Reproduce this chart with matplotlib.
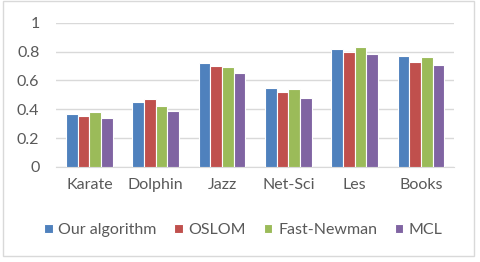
import matplotlib
matplotlib.use("Agg")
import matplotlib.pyplot as plt
import numpy as np
from matplotlib.patches import Rectangle

plt.rcParams['font.family'] = ['Lato', 'DejaVu Sans']

datasets = ['Karate', 'Dolphin', 'Jazz', 'Net-Sci', 'Les', 'Books']
our_algorithm = [0.37, 0.45, 0.72, 0.55, 0.82, 0.77]
oslom = [0.35, 0.47, 0.70, 0.52, 0.80, 0.73]
fast_newman = [0.38, 0.42, 0.69, 0.54, 0.83, 0.76]
mcl = [0.34, 0.39, 0.65, 0.48, 0.78, 0.71]

series = [('Our algorithm', our_algorithm, '#4F81BD'),
          ('OSLOM', oslom, '#C0504D'),
          ('Fast-Newman', fast_newman, '#9BBB59'),
          ('MCL', mcl, '#8064A2')]

text_color = '#595959'
fs = 11.5

fig = plt.figure(figsize=(4.8, 2.62), dpi=100)
ax = fig.add_axes([0.117, 0.363, 0.829, 0.550])

x = np.arange(len(datasets))
w = 0.176
for i, (name, vals, col) in enumerate(series):
    ax.bar(x + (i - 1.5) * w, vals, width=w, color=col, edgecolor='white',
           linewidth=0.8, label=name, zorder=3)

ax.set_xlim(-0.5, len(datasets) - 0.5)
ax.set_ylim(0, 1)
ax.set_yticks([0, 0.2, 0.4, 0.6, 0.8, 1])
ax.set_yticklabels(['0', '0.2', '0.4', '0.6', '0.8', '1'])
ax.set_xticks(x)
ax.set_xticklabels(datasets)
ax.yaxis.grid(True, color='#D9D9D9', linewidth=1, zorder=0)
ax.set_axisbelow(True)
for s in ['top', 'right', 'left']:
    ax.spines[s].set_visible(False)
ax.spines['bottom'].set_color('#D9D9D9')
ax.tick_params(axis='both', length=0, labelsize=fs, colors=text_color)
ax.tick_params(axis='x', pad=8)
ax.tick_params(axis='y', pad=12)

leg = fig.legend(loc='center', bbox_to_anchor=(0.507, 0.122), ncol=4, frameon=False,
                 fontsize=fs, handlelength=0.55, handleheight=0.55,
                 handletextpad=0.35, columnspacing=1.1)
for t in leg.get_texts():
    t.set_color(text_color)

fig.patches.append(Rectangle((3 / 480, 1 - 256 / 262), 471 / 480, 255 / 262,
                             transform=fig.transFigure, fill=False,
                             edgecolor='#D9D9D9', linewidth=1))

fig.savefig('out.png', dpi=100)
